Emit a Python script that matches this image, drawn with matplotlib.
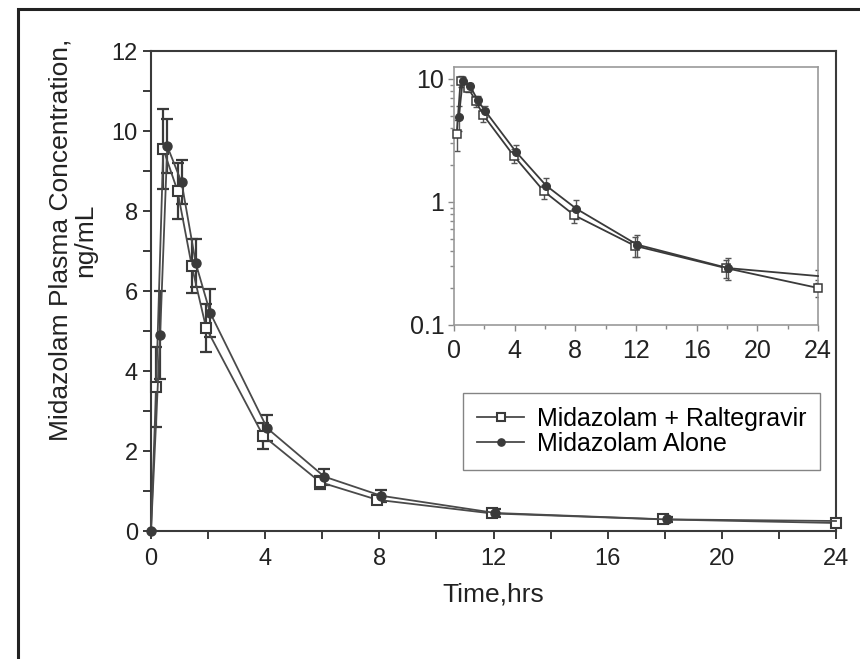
import numpy as np
import matplotlib
matplotlib.use("Agg")
import matplotlib.pyplot as plt
from matplotlib.patches import Rectangle
from matplotlib.ticker import MultipleLocator

plt.rcParams['font.family'] = ['Liberation Sans', 'DejaVu Sans']

# Tiempos de muestreo (h)
tiempos = np.array([0, 0.25, 0.5, 1, 1.5, 2, 4, 6, 8, 12, 18, 24])

# Midazolam + Raltegravir (cuadrados)
con_raltegravir = np.array([0, 3.6, 9.55, 8.5, 6.62, 5.08, 2.38, 1.22, 0.78, 0.44, 0.29, 0.20])
err_raltegravir = np.array([0, 1.0, 1.0, 0.7, 0.68, 0.6, 0.32, 0.16, 0.10, 0.08, 0.05, 0.03])

# Midazolam solo (circulos)
solo = np.array([0, 4.9, 9.62, 8.72, 6.69, 5.46, 2.57, 1.36, 0.88, 0.45, 0.29, 0.25])
err_solo = np.array([0, 1.1, 0.68, 0.55, 0.6, 0.6, 0.33, 0.2, 0.15, 0.09, 0.06, 0.03])

etiquetas = ["Midazolam + Raltegravir", "Midazolam Alone"]

gris = '#3a3a3a'
desplaz = 0.07  # pequeno desplazamiento para que no se solapen

fig = plt.figure(figsize=(8.6, 6.59), dpi=100)

# marco exterior
fig.patches.append(Rectangle((18 / 860, -0.1), 1.2, 1.1 - 9 / 659, transform=fig.transFigure,
                             fill=False, edgecolor='#222222', linewidth=2.2))

ax = fig.add_axes([151 / 860, 1 - 531 / 659, 685 / 860, 480 / 659])

t_r = tiempos - desplaz
t_s = tiempos + desplaz
t_s[0] = 0
t_s[-1] = 24
t_r[0] = 0
t_r[-1] = 24

ax.errorbar(t_r, con_raltegravir, yerr=err_raltegravir, fmt='none', ecolor=gris,
            elinewidth=1.6, capsize=4, capthick=1.6, zorder=2)
ax.errorbar(t_s, solo, yerr=err_solo, fmt='none', ecolor=gris,
            elinewidth=1.6, capsize=4, capthick=1.6, zorder=2)
l1, = ax.plot(t_r, con_raltegravir, color='#4a4a4a', lw=1.3, marker='s', ms=7.5,
              mfc='white', mec=gris, mew=1.5, zorder=3, clip_on=False,
              markevery=list(range(1, len(con_raltegravir))))
l2, = ax.plot(t_s, solo, color='#4a4a4a', lw=1.3, marker='o', ms=6.5,
              mfc=gris, mec=gris, zorder=4, clip_on=False, markevery=list(range(len(solo) - 1)))

ax.set_xlim(0, 24)
ax.set_ylim(0, 12)
ax.xaxis.set_major_locator(MultipleLocator(4))
ax.xaxis.set_minor_locator(MultipleLocator(2))
ax.yaxis.set_major_locator(MultipleLocator(2))
ax.yaxis.set_minor_locator(MultipleLocator(1))
ax.tick_params(which='both', direction='out', length=5.5, width=1.4, color=gris, labelsize=17,
               labelcolor='#222222')
ax.tick_params(axis='y', pad=4)
ax.tick_params(axis='x', pad=7)
for s in ax.spines.values():
    s.set_color(gris)
    s.set_linewidth(1.5)

ax.set_xlabel("Time,hrs", fontsize=19, color='#222222', labelpad=9)
fig.text(73 / 860, 1 - 240 / 659, "Midazolam Plasma Concentration,\nng/mL", rotation=90,
         ha='center', va='center', multialignment='center', fontsize=19, color='#222222',
         linespacing=1.0)

leg = fig.legend([l1, l2], etiquetas, loc='upper left',
                 bbox_to_anchor=(463 / 860, 1 - 393 / 659), bbox_transform=fig.transFigure,
                 fontsize=18, frameon=True, fancybox=False, edgecolor='#666666',
                 handlelength=1.9, handletextpad=0.5, labelspacing=0.05, borderpad=0.55,
                 borderaxespad=0, markerscale=0.8)
leg.get_frame().set_linewidth(1.0)

# grafico insertado en escala logaritmica
ins = fig.add_axes([454 / 860, 1 - 325 / 659, 364 / 860, 258 / 659])
ins.errorbar(t_r[1:], con_raltegravir[1:], yerr=err_raltegravir[1:], fmt='none', ecolor='#555555',
             elinewidth=1.0, capsize=2.5, capthick=1.0, zorder=2)
ins.errorbar(t_s[1:], solo[1:], yerr=err_solo[1:], fmt='none', ecolor='#555555',
             elinewidth=1.0, capsize=2.5, capthick=1.0, zorder=2)
ins.plot(t_r[1:], con_raltegravir[1:], color=gris, lw=1.3, marker='s', ms=5.5,
         mfc='white', mec=gris, mew=1.1, zorder=3, clip_on=False)
ins.plot(t_s[1:], solo[1:], color=gris, lw=1.3, marker='o', ms=5.5,
         mfc=gris, mec=gris, zorder=4, clip_on=False, markevery=list(range(len(solo) - 2)))
ins.set_yscale('log')
ins.set_xlim(0, 24)
ins.set_ylim(0.1, 12.5)
ins.set_yticks([0.1, 1, 10])
ins.set_yticklabels(['0.1', '1', '10'])
ins.xaxis.set_major_locator(MultipleLocator(4))
ins.xaxis.set_minor_locator(MultipleLocator(2))
ins.tick_params(which='both', direction='out', color='#888888', width=1.0, labelsize=18,
                labelcolor='#222222')
ins.tick_params(which='major', length=4)
ins.tick_params(which='minor', length=3)
ins.tick_params(axis='x', pad=6)
ins.tick_params(axis='y', pad=3)
for s in ins.spines.values():
    s.set_color('#999999')
    s.set_linewidth(1.2)

fig.savefig("out.png", dpi=100)
